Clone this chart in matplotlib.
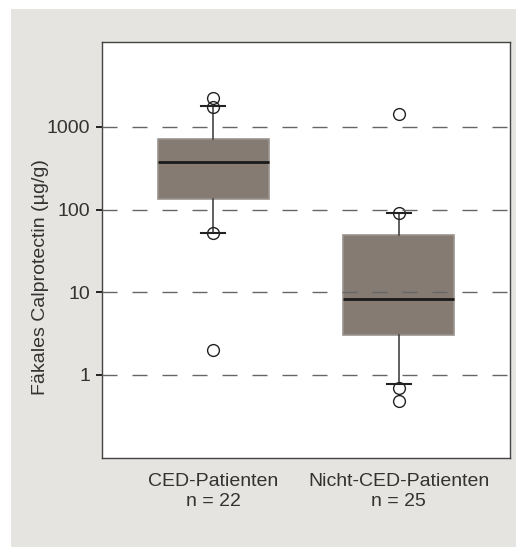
import matplotlib
matplotlib.use("Agg")
import matplotlib.pyplot as plt
from matplotlib.patches import Rectangle

plt.rcParams['font.family'] = ['Liberation Sans', 'DejaVu Sans']

# Werte (log-Skala)
groups = ['CED-Patienten', 'Nicht-CED-Patienten']
n_labels = ['n = 22', 'n = 25']
q1 = [135, 3.05]
med = [380, 8.4]
q3 = [716, 49]
whislo = [52, 0.77]
whishi = [1795, 90]
outliers = [[2220, 1740, 52, 2.0], [1425, 90, 0.69, 0.48]]
grid_vals = [1, 10, 100, 1000]

stats = []
for i in range(len(groups)):
    stats.append({'med': med[i], 'q1': q1[i], 'q3': q3[i],
                  'whislo': whislo[i], 'whishi': whishi[i],
                  'fliers': outliers[i]})

fig = plt.figure(figsize=(5.16, 5.47), dpi=100)
fig.patches.append(Rectangle((11/516, 0), 1, 1 - 9/547, transform=fig.transFigure,
                             facecolor='#e6e4e0', edgecolor='none', zorder=-5))

ax = fig.add_axes([102/516, 1 - 458/547, 408/516, 416/547])
ax.set_yscale('log')

ax.bxp(stats, positions=[1, 2], widths=0.6, capwidths=0.13, patch_artist=True,
       boxprops=dict(facecolor='#857b73', edgecolor='#9a938d', linewidth=1.2),
       medianprops=dict(color='#1a1a1a', linewidth=2),
       whiskerprops=dict(color='#444444', linewidth=1.2),
       capprops=dict(color='#222222', linewidth=1.5),
       flierprops=dict(marker='o', markersize=8.5, markerfacecolor='none',
                       markeredgecolor='#222222', markeredgewidth=1.0))

for v in grid_vals:
    ax.axhline(v, color='#666666', linewidth=1.0, linestyle=(0, (10.8, 10.8)), zorder=5)

ax.set_xlim(0.4, 2.6)
ax.set_ylim(0.099, 10670)
ax.set_yticks(grid_vals)
ax.set_yticklabels([str(v) for v in grid_vals])
ax.minorticks_off()
ax.tick_params(axis='y', length=4.3, width=1.4, pad=4, labelsize=14, colors='#222222',
               labelcolor='#333333')
ax.set_xticks([1, 2])
ax.set_xticklabels([g + '\n' + n for g, n in zip(groups, n_labels)])
ax.tick_params(axis='x', length=0, pad=11, labelsize=14, labelcolor='#333333')
for s in ax.spines.values():
    s.set_color('#444444')
    s.set_linewidth(1.0)

fig.text(41/516, 1 - 277/547, 'Fäkales Calprotectin (µg/g)', rotation=90,
         ha='center', va='center', fontsize=14, color='#333333')

fig.savefig('out.png', dpi=100)
